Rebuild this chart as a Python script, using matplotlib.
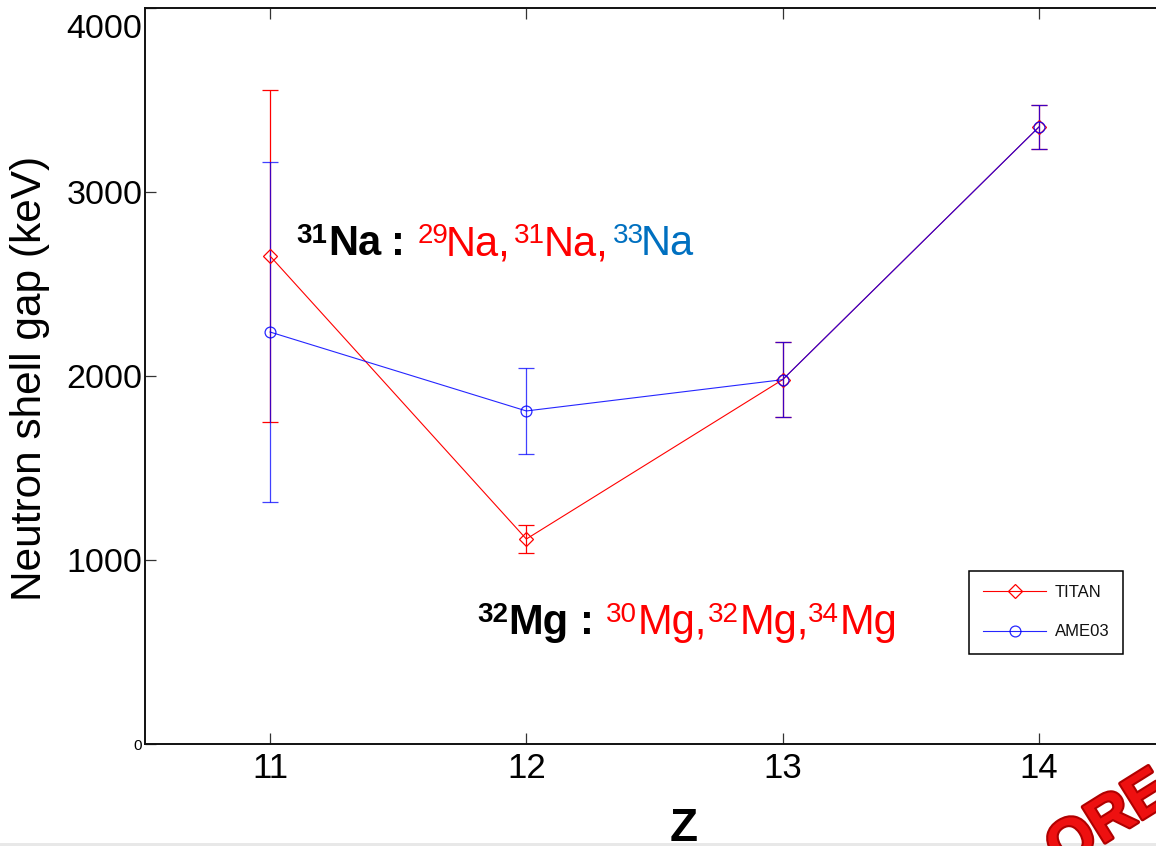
import matplotlib
matplotlib.use("Agg")
import matplotlib.pyplot as plt
from matplotlib.transforms import IdentityTransform
from matplotlib.patches import Rectangle
import matplotlib.patheffects as pe

plt.rcParams['font.family'] = ['Liberation Sans', 'DejaVu Sans']

# ---- data ----
Z = [11, 12, 13, 14]
titan = [2652, 1114, 1980, 3353]
titan_err = [900, 75, 204, 120]
ame03 = [2239, 1810, 1980, 3353]
ame03_err = [924, 233, 204, 120]
yticks = [0, 1000, 2000, 3000, 4000]
ytick_labels = ['0', '1000', '2000', '3000', '']
xticks = [11, 12, 13, 14]

W, H = 1156, 846
fig = plt.figure(figsize=(W / 100, H / 100), dpi=100)
fig.patch.set_facecolor('white')

# axes placement (right spine falls just outside the picture)
left_px, right_px, top_px, bottom_px = 145, 1167, 8, 744
ax = fig.add_axes([left_px / W, 1 - bottom_px / H,
                   (right_px - left_px) / W, (bottom_px - top_px) / H])
ax.set_xlim(10.512, 14.5)
ax.set_ylim(0, 4000)

red = '#ff0000'
blue = '#0000ff'

ax.errorbar(Z, titan, yerr=titan_err, fmt='none', ecolor=red, elinewidth=0.9,
            capsize=5.5, capthick=0.9, zorder=2)
ax.errorbar(Z, ame03, yerr=ame03_err, fmt='none', ecolor=blue, elinewidth=0.9,
            capsize=5.5, capthick=0.9, alpha=0.75, zorder=3)
ax.plot(Z, titan, color=red, lw=0.8, marker='D', ms=7.6, mfc='none',
        mec=red, mew=0.9, label='TITAN', zorder=4)
ax.plot(Z, ame03, color=blue, lw=0.8, marker='o', ms=7.8, mfc='none',
        mec=blue, mew=0.9, alpha=0.85, label='AME03', zorder=5)

# ticks
ax.set_xticks(xticks)
ax.set_xticklabels([str(v) for v in xticks], fontsize=25)
ax.set_yticks(yticks, ytick_labels, fontsize=24.5)
ax.get_yticklabels()[0].set_fontsize(11)
ax.tick_params(direction='in', length=8, width=0.9, color='#333333',
               top=True, right=True)
ax.tick_params(axis='y', pad=2)
ax.tick_params(axis='x', pad=6)
for s in ax.spines.values():
    s.set_linewidth(1.4)
    s.set_color('#111111')

# 4000 label (displaced downwards as in the reference)
fig.text(142 / W, 1 - 30 / H, '4000', fontsize=24.5, ha='right', va='center')

# axis labels
fig.text(30 / W, 1 - 378 / H, 'Neutron shell gap (keV)', fontsize=30.5,
         rotation=90, ha='center', va='center')
fig.text(684 / W, 5 / H, 'Z', fontsize=33, fontweight='bold',
         ha='center', va='baseline')

# legend
leg = ax.legend(loc='upper left', bbox_to_anchor=(0.806, 0.235),
                fontsize=12, frameon=True, fancybox=False, edgecolor='black',
                handlelength=3.8, handletextpad=0.5, labelspacing=1.45,
                borderpad=0.85, borderaxespad=0)
leg.get_frame().set_linewidth(1.1)
leg.get_frame().set_alpha(1)
for t in leg.get_texts():
    t.set_color('#111111')

# rich annotations (layout positions in pixels)
blk = '#000000'
cb = '#0070c0'
def piece(x, baseline, s, color, weight='normal', sup=False):
    size = 20 if sup else 30
    yb = baseline - (12 if sup else 0)
    fig.text(x, H - yb, s, transform=IdentityTransform(), fontsize=size,
             color=color, fontweight=weight, ha='left', va='baseline')

b1 = 255
piece(296, b1, '31', blk, 'bold', True)
piece(328, b1, 'Na', blk, 'bold')
piece(391, b1, ':', blk, 'bold')
piece(418, b1, '29', red, sup=True)
piece(446, b1, 'Na,', red)
piece(514, b1, '31', red, sup=True)
piece(544, b1, 'Na,', red)
piece(613, b1, '33', cb, sup=True)
piece(641, b1, 'Na', cb)

b2 = 634
piece(477, b2, '32', blk, 'bold', True)
piece(508, b2, 'Mg', blk, 'bold')
piece(580, b2, ':', blk, 'bold')
piece(606, b2, '30', red, sup=True)
piece(638, b2, 'Mg,', red)
piece(708, b2, '32', red, sup=True)
piece(740, b2, 'Mg,', red)
piece(808, b2, '34', red, sup=True)
piece(840, b2, 'Mg', red)

# stamp fragment bottom right
fig.text(1038, H - 868, 'ORE', transform=IdentityTransform(), fontsize=44,
         fontweight='bold', color='#ee1010', rotation=32, ha='left',
         va='baseline',
         path_effects=[pe.withStroke(linewidth=3, foreground='#b00000')])

# grey strip at the very bottom
fig.add_artist(Rectangle((0, 0), 1, 3 / H, transform=fig.transFigure,
                         facecolor='#e8e8e8', edgecolor='none', zorder=0.5))

fig.savefig('out.png', dpi=100)
